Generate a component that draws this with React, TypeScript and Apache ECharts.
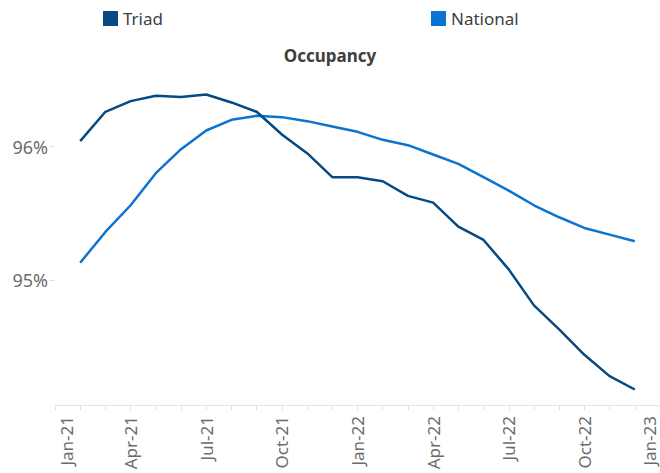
import React, { useEffect, useRef } from "react";
import * as echarts from "echarts";

// Months plotted (month index counted from Jan-21 = 0)
const months = [
  "Feb-21", "Mar-21", "Apr-21", "May-21", "Jun-21", "Jul-21", "Aug-21", "Sep-21", "Oct-21", "Nov-21", "Dec-21",
  "Jan-22", "Feb-22", "Mar-22", "Apr-22", "May-22", "Jun-22", "Jul-22", "Aug-22", "Sep-22", "Oct-22", "Nov-22", "Dec-22",
];
const monthIndex = months.map((_, i) => i + 1);

const triad = [
  96.04, 96.26, 96.34, 96.38, 96.37, 96.39, 96.33, 96.26, 96.09, 95.95, 95.77,
  95.77, 95.74, 95.63, 95.58, 95.40, 95.30, 95.08, 94.81, 94.63, 94.44, 94.28, 94.18,
];
const national = [
  95.13, 95.36, 95.56, 95.80, 95.98, 96.12, 96.20, 96.23, 96.22, 96.19, 96.15,
  96.11, 96.05, 96.01, 95.94, 95.87, 95.77, 95.67, 95.56, 95.47, 95.39, 95.34, 95.29,
];

const xTickLabels = ["Jan-21", "Apr-21", "Jul-21", "Oct-21", "Jan-22", "Apr-22", "Jul-22", "Oct-22", "Jan-23"];
const xLabelPositions = [0.47, 3, 6, 9, 12, 15, 18, 21, 23.58];
const yTickValues = [95, 96];

const TRIAD_COLOR = "#064A84";
const NATIONAL_COLOR = "#0B74D0";
const FONT = "'Noto Sans', sans-serif";

export default function App() {
  const ref = useRef<HTMLDivElement>(null);

  useEffect(() => {
    if (!ref.current) return;
    const chart = echarts.init(ref.current, null, { renderer: "svg" });
    chart.setOption({
      animation: false,
      backgroundColor: "#ffffff",
      title: {
        text: "Occupancy",
        left: "center",
        top: 42,
        textStyle: { fontFamily: FONT, fontSize: 17, fontWeight: "bold", color: "#404040" },
      },
      legend: [
        {
          data: ["Triad"],
          left: 98,
          top: 5,
          icon: "rect",
          itemWidth: 15,
          itemHeight: 15,
          itemGap: 8,
          textStyle: { fontFamily: FONT, fontSize: 17, color: "#404040" },
        },
        {
          data: ["National"],
          left: 426,
          top: 5,
          icon: "rect",
          itemWidth: 15,
          itemHeight: 15,
          itemGap: 8,
          textStyle: { fontFamily: FONT, fontSize: 17, color: "#404040" },
        },
      ],
      grid: { left: 55, top: 66.4, width: 608.6, height: 338.6, containLabel: false },
      xAxis: {
        type: "value",
        min: 0,
        max: 24,
        interval: 1,
        splitLine: { show: false },
        axisLine: { show: true, lineStyle: { color: "#e4e4e4", width: 1 } },
        axisTick: { show: true, length: 5, lineStyle: { color: "#e0e0e0" } },
        axisLabel: {
          customValues: xLabelPositions,
          rotate: 90,
          margin: 11,
          fontFamily: FONT,
          fontSize: 17,
          color: "#6b6b6b",
          formatter: (v: number) => xTickLabels[Math.round(v / 3)] ?? "",
        },
      },
      yAxis: {
        type: "value",
        min: 94.064,
        max: 96.6,
        splitLine: { show: false },
        axisLine: { show: false },
        axisTick: {
          show: true,
          customValues: yTickValues,
          length: 5,
          lineStyle: { color: "#e0e0e0" },
        },
        axisLabel: {
          customValues: yTickValues,
          margin: 7,
          fontFamily: FONT,
          fontSize: 18,
          color: "#6b6b6b",
          formatter: (v: number) => `${Math.round(v)}%`,
        },
      },
      series: [
        {
          name: "Triad",
          type: "line",
          data: monthIndex.map((m, i) => [m, triad[i]]),
          showSymbol: false,
          symbol: "none",
          color: TRIAD_COLOR,
          lineStyle: { color: TRIAD_COLOR, width: 2.5 },
          z: 3,
        },
        {
          name: "National",
          type: "line",
          data: monthIndex.map((m, i) => [m, national[i]]),
          showSymbol: false,
          symbol: "none",
          color: NATIONAL_COLOR,
          lineStyle: { color: NATIONAL_COLOR, width: 2.5 },
          z: 2,
        },
      ],
    });
    return () => chart.dispose();
  }, []);

  return <div ref={ref} style={{ width: 660, height: 473, position: "absolute", left: 0, top: 0 }} />;
}
